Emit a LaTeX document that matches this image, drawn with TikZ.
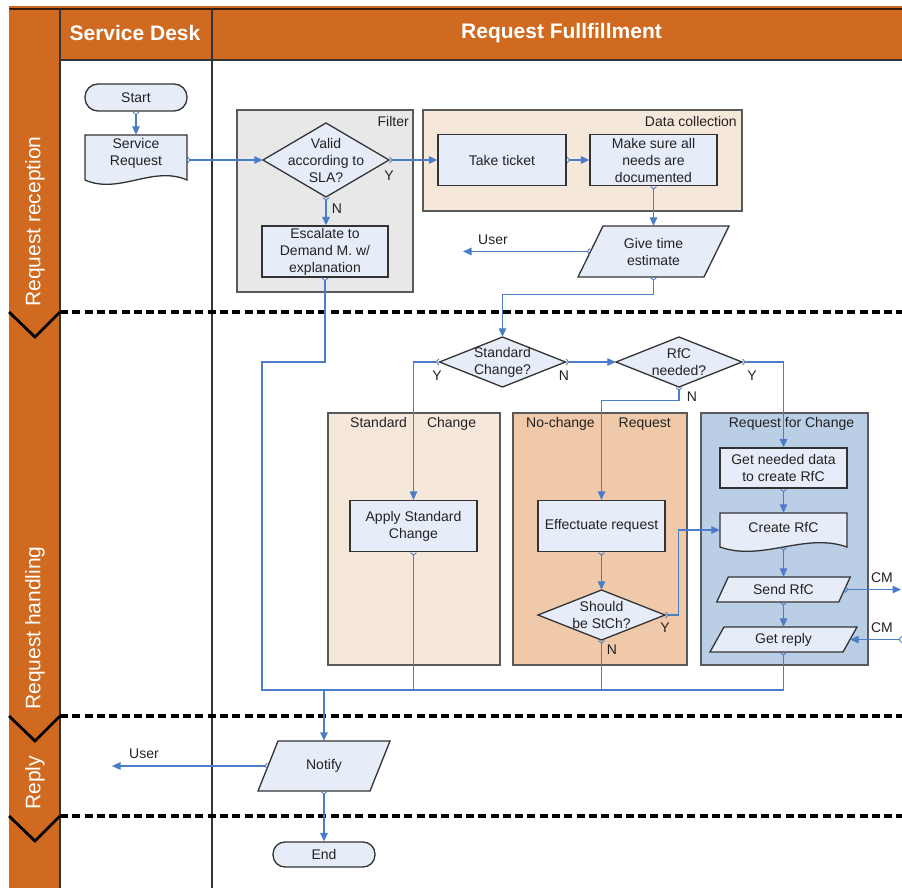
\documentclass[tikz,border=0pt]{standalone}
\usepackage{fontspec}
\setmainfont{Liberation Sans}
\usetikzlibrary{arrows.meta,calc}
\definecolor{orng}{HTML}{CF6A20}
\definecolor{nfill}{HTML}{E6EDF8}
\definecolor{cblue}{HTML}{4A7CC8}
\definecolor{gfill}{HTML}{E8E8E8}
\definecolor{peach}{HTML}{F6E7DB}
\definecolor{peachd}{HTML}{EFC9A9}
\definecolor{rfcblue}{HTML}{BACEE6}
\definecolor{edgec}{HTML}{333333}
\definecolor{gedge}{HTML}{5A5A5A}
\definecolor{txtc}{HTML}{222222}
\tikzset{
  shp/.style={fill=nfill, draw=edgec, line width=1.3pt},
  txt/.style={inner sep=0pt, align=center, font=\fontsize{14}{17}\selectfont, text=txtc},
  lbl/.style={inner sep=0pt, font=\fontsize{14}{17}\selectfont, text=txtc},
  grp/.style={draw=gedge, line width=1.5pt},
  hdr/.style={inner sep=0pt, font=\fontsize{21}{25}\selectfont\bfseries, text=white},
  lanetxt/.style={inner sep=0pt, font=\fontsize{21}{25}\selectfont, text=white, rotate=90, anchor=west},
  lanesep/.style={line width=3.2pt, dash pattern=on 8pt off 4.3pt},
  chev/.style={line width=2.8pt, line join=miter},
  flow/.style={draw=cblue, line width=1.3pt, {Straight Barb[reversed,length=2.5pt,width=6pt,line width=0.9pt]}-{Triangle[length=8.5pt,width=7.5pt]}},
  flowend/.style={draw=cblue, line width=1.3pt, -{Triangle[length=8.5pt,width=7.5pt]}},
  merge/.style={draw=cblue, line width=1.3pt, {Straight Barb[reversed,length=2.5pt,width=6pt,line width=0.9pt]}-},
}
% parallelogram: name, cx, cy, edge width, height, half offset, text
\newcommand\paragram[7]{%
  \filldraw[shp] (#2-#4/2+#6,#3-#5/2) -- (#2+#4/2+#6,#3-#5/2) -- (#2+#4/2-#6,#3+#5/2) -- (#2-#4/2-#6,#3+#5/2) -- cycle;
  \node[txt, minimum width=#4, minimum height=#5] (#1) at (#2,#3) {#7};}
% diamond: name, cx, cy, w, h, text
\newcommand\diam[6]{%
  \filldraw[shp] (#2-#4/2,#3) -- (#2,#3-#5/2) -- (#2+#4/2,#3) -- (#2,#3+#5/2) -- cycle;
  \node[txt, minimum width=#4, minimum height=#5] (#1) at (#2,#3) {#6};}
% document: name, cx, top, w, h, text shift, text
\newcommand\docshape[7]{%
  \filldraw[shp] (#2-#4/2,#3) -- (#2+#4/2,#3) -- (#2+#4/2,#3+#5) .. controls (#2+#4/6,#3+#5-15) and (#2-#4/6,#3+#5+15) .. (#2-#4/2,#3+#5) -- cycle;
  \node[inner sep=0pt, minimum width=#4, minimum height=#5, label={[txt, yshift=#6]center:{#7}}] (#1) at (#2,#3+#5/2) {};}
\begin{document}
\begin{tikzpicture}[x=1pt, y=-1pt]
\useasboundingbox (0,0) rectangle (902,888);
% frame
\fill[orng] (9,6) rectangle (902,60);
\fill[orng] (9,6) rectangle (60,888);
\draw[black!75!orng, line width=1.2pt] (9,9) -- (902,9);
\draw[gray, line width=1pt] (9,9) -- (9,888);
\draw[edgec, line width=1.4pt] (60,9) -- (60,888);
\draw[edgec, line width=1.2pt] (60,60) -- (902,60);
\draw[edgec, line width=1.2pt] (212,9) -- (212,888);
\node[hdr] (hsd) at (135,33) {Service Desk};
\node[hdr] (hrf) at (561.5,33) {Request Fullfillment};
% lanes
\draw[lanesep] (60,312) -- (902,312);
\draw[lanesep] (60,716) -- (902,716);
\draw[lanesep] (60,816) -- (902,816);
\draw[chev] (9,312) -- (35,337) -- (60,312);
\draw[chev] (9,716) -- (35,741) -- (60,716);
\draw[chev] (9,816) -- (35,841) -- (60,816);
\node[lanetxt] (l1) at (35,307) {Request reception};
\node[lanetxt] (l2) at (35,710) {Request handling};
\node[lanetxt] (l3) at (35,810) {Reply};
% groups
\filldraw[grp, fill=gfill] (237,110) rectangle (413,292);
\filldraw[grp, fill=peach] (423,110) rectangle (742,211);
\filldraw[grp, fill=peach] (328,413) rectangle (500,665);
\filldraw[grp, fill=peachd] (513,413) rectangle (687,665);
\filldraw[grp, fill=rfcblue] (701,413) rectangle (868,665);
\node[lbl, anchor=east] (gf) at (409,121) {Filter};
\node[lbl, anchor=east] (gd) at (737,121) {Data collection};
\node[lbl, anchor=west] (gs) at (350,424) {Standard\hspace{20pt}Change};
\node[lbl, anchor=west] (gn) at (526,424) {No-change\hspace{24pt}Request};
\node[lbl] (gr) at (791.5,424) {Request for Change};
% shapes
\node[shp, txt, rounded corners=13pt, minimum width=102, minimum height=27] (start) at (136,97.5) {Start};
\docshape{sreq}{136}{135}{102}{45}{4pt}{Service\\Request}
\diam{valid}{326}{160}{126}{74}{Valid\\according to\\SLA?}
\node[shp, txt, minimum width=126, minimum height=51] (esc) at (325,251.5) {Escalate to\\Demand M. w/\\explanation};
\node[shp, txt, minimum width=128, minimum height=51] (take) at (502,160) {Take ticket};
\node[shp, txt, minimum width=127, minimum height=51] (make) at (653.5,160) {Make sure all\\needs are\\documented};
\paragram{give}{653.5}{251.5}{126}{51}{12.5}{Give time\\estimate}
\diam{stdc}{502.5}{362}{126}{50}{Standard\\Change?}
\diam{rfc}{679}{362}{126}{50}{RfC\\needed?}
\node[shp, txt, minimum width=127, minimum height=51] (apply) at (413.5,526) {Apply Standard\\Change};
\node[shp, txt, minimum width=127, minimum height=51] (eff) at (601.5,526) {Effectuate request};
\diam{should}{601.5}{615}{127}{50}{Should\\be StCh?}
\node[shp, txt, minimum width=127, minimum height=40] (getdata) at (783.5,468) {Get needed data\\to create RfC};
\docshape{create}{783.5}{513}{127}{34}{3pt}{Create RfC}
\paragram{send}{783.5}{589.5}{122}{25}{5.75}{Send RfC}
\paragram{getrep}{783.5}{639.5}{133}{25}{7}{Get reply}
\paragram{notify}{324}{766}{112}{50}{10}{Notify}
\node[shp, txt, rounded corners=12pt, minimum width=102, minimum height=25] (endn) at (324,854.5) {End};
% free ends
\coordinate (user1) at (463,251.5);
\coordinate (user2) at (112,766);
\coordinate (cm1) at (901,589.5);
\coordinate (cm2) at (902,639.5);
\coordinate (join) at (324,690);
\coordinate (bendA) at (262,362);
% connectors
\draw[flow] (start.south) -- (sreq.north);
\draw[flow] (sreq.east |- valid.west) -- (valid.west);
\draw[flow] (valid.east) -- (take.west);
\draw[flow] (take.east) -- (make.west);
\draw[flow] (make.south) -- (give.north);
\draw[flow] (give.west) -- (user1);
\draw[flow] (valid.south) -- (valid.south |- esc.north);
\draw[flow] (give.south) -- ++(0,17) -| (stdc.north);
\draw[flow] (stdc.east) -- (rfc.west);
\draw[flow] (stdc.west) -| (apply.north);
\draw[flow] (rfc.south) -- ++(0,13) -| (eff.north);
\draw[flow] (rfc.east) -| (getdata.north);
\draw[flow] (getdata.south) -- (create.north);
\draw[flow] (create.south) -- (send.north);
\draw[flow] (send.south) -- (getrep.north);
\draw[flow] (send.east) -- (cm1);
\draw[flow] (cm2) -- (getrep.east);
\draw[flow] (eff.south) -- (should.north);
\draw[flow] (should.east) -- ++(13,0) |- (create.west);
\draw[merge] (esc.south) |- (bendA) |- (join);
\draw[merge] (apply.south) |- (join);
\draw[merge] (should.south) |- (join);
\draw[merge] (getrep.south) |- (join);
\draw[flowend] (join) -- (notify.north);
\draw[flow] (notify.west) -- (user2);
\draw[flow] (notify.south) -- (endn.north);
% labels
\node[lbl] (y1) at (389,176) {Y};
\node[lbl] (n1) at (337,209) {N};
\node[lbl] (y2) at (437,376) {Y};
\node[lbl] (n2) at (564,376) {N};
\node[lbl] (y3) at (752,376) {Y};
\node[lbl] (n3) at (692,397) {N};
\node[lbl] (y4) at (665,628) {Y};
\node[lbl] (n4) at (612,650) {N};
\node[lbl] (u1) at (493,240) {User};
\node[lbl] (u2) at (144,754) {User};
\node[lbl] (c1) at (882,578) {CM};
\node[lbl] (c2) at (882,628) {CM};
\end{tikzpicture}
\end{document}
